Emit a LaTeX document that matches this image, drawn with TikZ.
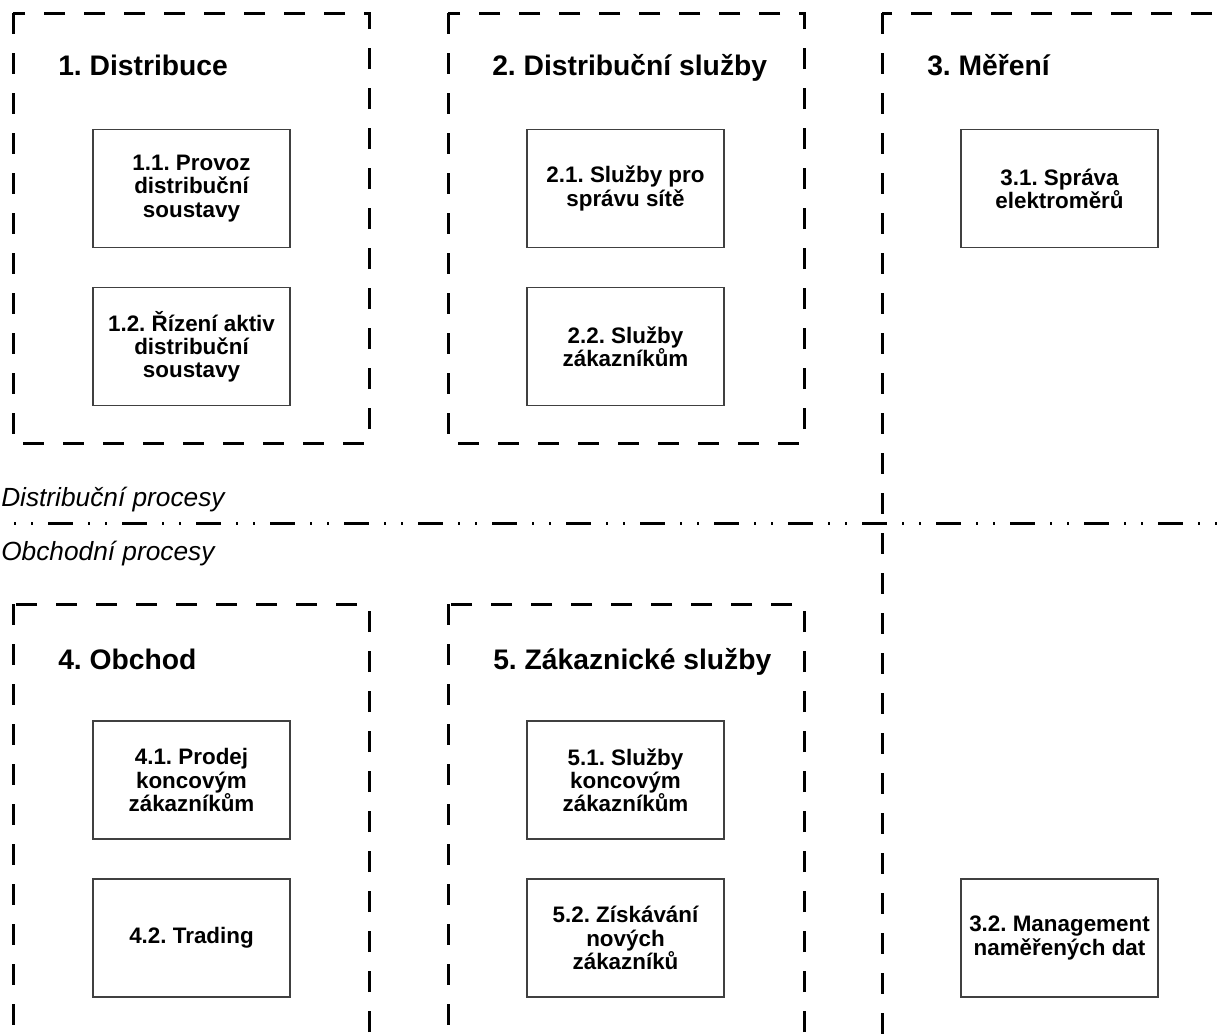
\documentclass[tikz,border=0pt]{standalone}
\usepackage{fontspec}
\setmainfont{Liberation Sans}
\usepackage{tikz}
\usetikzlibrary{positioning}
\frenchspacing

\tikzset{
  grp/.style={line width=2.25pt, dash pattern=on 15.75pt off 14.25pt},
  proc/.style={draw=black!75, line width=1pt, rectangle, minimum width=147.75pt, minimum height=88.5pt, align=center, inner sep=0pt, font=\bfseries\fontsize{16.8}{17.4}\selectfont},
  grptitle/.style={anchor=base west, inner sep=0pt, font=\bfseries\fontsize{21.2}{24}\selectfont},
  lanelabel/.style={anchor=base west, inner sep=0pt, font=\itshape\fontsize{19.7}{23}\selectfont},
  divider/.style={line width=2.25pt, dash pattern=on 18.75pt off 11.25pt on 1.5pt off 11.25pt on 1.5pt off 11.25pt, dash phase=19.5pt}
}

\begin{document}
\begin{tikzpicture}[x=0.75pt, y=0.75pt, node distance=118.5pt]
        \useasboundingbox (0,0) rectangle (1230,-1033);
        \clip (0,0) rectangle (1230,-1033);

        % Groups
        \draw[grp] (13,-13) rectangle (369,-443);
        \draw[grp] (448,-13) rectangle (804,-443);
        \draw[grp] (882,-13) rectangle (1300,-1100);
        \draw[grp] (13,-604) rectangle (369,-1100);
        \draw[grp] (448,-604) rectangle (804,-1100);

        \node (t1) [grptitle] at (58,-75) {1. Distribuce};
        \node (t2) [grptitle] at (492,-75) {2. Distribuční služby};
        \node (t3) [grptitle] at (927,-75) {3. Měření};
        \node (t4) [grptitle] at (58,-669) {4. Obchod};
        \node (t5) [grptitle] at (493,-669) {5. Zákaznické služby};

        % Processes
        \node (b11) [proc] at (191.5,-188.5) {1.1. Provoz\\distribuční\\soustavy};
        \node (b12) [proc, below of=b11] {1.2. Řízení aktiv\\distribuční\\soustavy};

        \node (b21) [proc] at (625.5,-188.5) {2.1. Služby pro\\správu sítě};
        \node (b22) [proc, below of=b21] {2.2. Služby\\zákazníkům};

        \node (b31) [proc] at (1059.5,-188.5) {3.1. Správa\\elektroměrů};

        \node (b41) [proc] at (191.5,-780) {4.1. Prodej\\koncovým\\zákazníkům};
        \node (b42) [proc, below of=b41] {4.2. Trading};

        \node (b51) [proc] at (625.5,-780) {5.1. Služby\\koncovým\\zákazníkům};
        \node (b52) [proc, below of=b51] {5.2. Získávání\\nových\\zákazníků};

        \node (b32) [proc] at (1059.5,-938) {3.2. Management\\naměřených dat};

        % Divider
        \draw[divider] (0,-523) -- (1230,-523);
        \node (dist) [lanelabel] at (1,-506) {Distribuční procesy};
        \node (obch) [lanelabel] at (1,-560) {Obchodní procesy};
    \end{tikzpicture}
\end{document}
